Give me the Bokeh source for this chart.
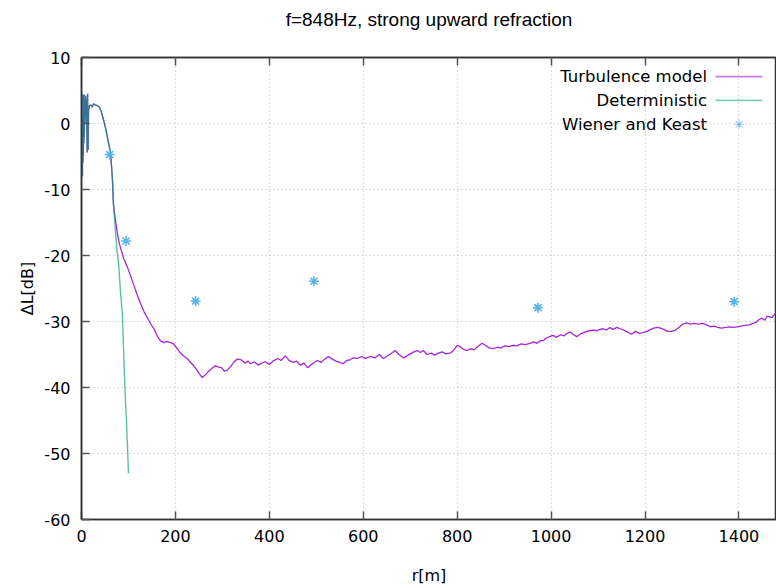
from bokeh.plotting import figure
from bokeh.models import LinearAxis, FixedTicker, Label, BoxAnnotation, Range1d
from bokeh.embed import file_html
from bokeh.resources import INLINE

# ---------------- data ----------------
title_text = "f=848Hz, strong upward refraction"
x_label = "r[m]"
y_label = "ΔL[dB]"
x_ticks = [0, 200, 400, 600, 800, 1000, 1200, 1400]
y_ticks = [-60, -50, -40, -30, -20, -10, 0, 10]

# common near-field part (both models coincide)
near_r = [0, 0.5, 1, 1.5, 2, 2.5, 3, 3.5, 4, 4.5, 5, 5.5, 6, 7, 8, 9, 10, 11, 12, 13,
          14, 15, 17, 20, 23, 26, 30, 34, 38, 42, 46, 51, 56, 62, 66]
near_db = [0, 4.5, -7, 4.0, -8, 3.5, -6, 4.3, -5, 3.8, -3, 4.4, -2, 3.5, 1, 4.2, 0, 3.8, -4.4, 4.5,
           -4.0, 2.0, 2.7, 2.8, 2.5, 3.0, 2.8, 2.7, 2.5, 1.8, 0.8, -0.6, -2.4, -4.5, -8.6]

# deterministic continuation
det_r = [68, 72, 76, 79, 83, 87, 89, 91, 93, 96, 98, 100]
det_db = [-12.1, -16, -19.5, -21.2, -25.5, -28.8, -33, -37.4, -41, -45.5, -49, -53.0]

# turbulence model continuation
turb_r = [68, 72, 76, 80, 83, 90, 98, 105, 112, 120, 126, 133, 140, 147, 155, 162, 168, 175,
          182, 190, 196, 205, 210, 217, 225, 232, 238, 245, 252, 257, 262, 270, 278, 285, 292,
          298, 304, 310, 318, 325, 332, 340, 348, 355, 360, 368, 376, 384, 391, 400, 408, 417,
          425, 434, 442, 451, 458, 466, 474, 481, 490, 496, 502, 510, 518, 526, 534, 542, 550,
          557, 565, 572, 579, 588, 596, 605, 615, 625, 634, 643, 650, 660, 668, 676, 685, 693,
          700, 708, 715, 722, 728, 736, 745, 752, 760, 768, 776, 785, 792, 800, 806, 813, 821,
          829, 836, 844, 853, 860, 868, 877, 885, 893, 902, 910, 919, 927, 936, 945, 955, 963,
          970, 978, 983, 990, 997, 1004, 1012, 1020, 1027, 1034, 1041, 1048, 1055, 1062, 1069,
          1076, 1083, 1090, 1097, 1104, 1111, 1118, 1125, 1132, 1140, 1147, 1155, 1163, 1170,
          1174, 1180, 1188, 1196, 1204, 1212, 1219, 1226, 1233, 1240, 1248, 1257, 1265, 1272,
          1280, 1289, 1297, 1305, 1314, 1323, 1331, 1339, 1347, 1355, 1363, 1372, 1380, 1388,
          1396, 1404, 1413, 1422, 1430, 1437, 1443, 1449, 1455, 1460, 1466, 1470, 1475, 1480]
turb_db = [-12.3, -14.5, -16.5, -18.0, -18.8, -20.5, -21.8, -23.2, -24.6, -26.2, -27.3, -28.5,
           -29.4, -30.3, -31.2, -32.3, -32.9, -33.2, -33.0, -33.2, -33.4, -34.2, -34.7, -35.2,
           -35.6, -36.2, -36.6, -37.3, -38.0, -38.5, -38.2, -37.6, -37.1, -36.7, -36.9, -37.0,
           -37.5, -37.4, -36.8, -36.1, -35.7, -35.8, -36.3, -36.0, -36.4, -36.1, -36.6, -36.3,
           -36.1, -36.5, -36.0, -35.6, -35.9, -35.2, -35.9, -36.2, -36.0, -36.6, -36.3, -37.0,
           -36.5, -36.2, -35.9, -36.2, -35.7, -35.3, -35.7, -36.0, -36.2, -36.4, -35.9, -35.8,
           -35.5, -35.6, -35.3, -35.6, -35.3, -35.5, -35.0, -35.6, -35.3, -34.8, -34.4, -35.0,
           -35.5, -35.2, -34.9, -34.6, -34.4, -34.7, -34.4, -35.0, -34.8, -35.1, -34.8, -34.6,
           -34.9, -34.8, -34.4, -33.6, -33.8, -34.2, -34.4, -34.1, -34.3, -33.8, -33.3, -33.6,
           -34.0, -34.1, -33.9, -34.0, -33.7, -33.8, -33.6, -33.7, -33.4, -33.5, -33.3, -33.1,
           -33.3, -32.9, -32.9, -32.5, -32.3, -32.1, -32.4, -32.0, -32.2, -31.8, -31.6, -32.0,
           -32.3, -31.9, -31.7, -31.5, -31.4, -31.3, -31.4, -31.2, -31.1, -31.3, -30.9, -31.2,
           -30.9, -31.1, -31.3, -31.6, -31.9, -31.8, -31.5, -31.8, -31.7, -31.5, -31.2, -31.0,
           -30.9, -31.0, -31.2, -31.5, -31.5, -31.3, -30.9, -30.4, -30.2, -30.4, -30.3, -30.4,
           -30.3, -30.5, -30.8, -30.7, -30.9, -31.0, -30.9, -30.8, -30.9, -30.8, -30.7, -30.6,
           -30.5, -30.3, -30.1, -29.7, -29.5, -29.8, -29.2, -29.3, -29.4, -29.0, -28.6]

# Wiener and Keast measurements
wk_r = [60, 95, 243, 495, 972, 1390]
wk_db = [-4.7, -17.8, -26.9, -23.9, -27.9, -27.0]

legend_names = ["Turbulence model", "Deterministic", "Wiener and Keast"]

# ---------------- style ----------------
C_TURB = "#9400d3"
C_DET = "#009e73"
C_WK = "#56b4e9"
TICK_FONT = "DejaVu Sans"

p = figure(width=776, height=588, output_backend="svg", toolbar_location=None,
           x_range=Range1d(0, 1480), y_range=Range1d(-60, 10),
           min_border_left=81, min_border_right=0, min_border_top=57, min_border_bottom=69)

p.outline_line_color = "#333333"
p.outline_line_width = 1.5
p.background_fill_color = "white"
p.border_fill_color = "white"

for ax in (p.xaxis[0], p.yaxis[0]):
    ax.axis_line_color = "#333333"
    ax.axis_line_width = 1.5
    ax.major_tick_in = 8
    ax.major_tick_out = 0
    ax.major_tick_line_color = "#555555"
    ax.major_tick_line_width = 1.5
    ax.minor_tick_line_color = None
    ax.major_label_text_font = TICK_FONT
    ax.major_label_text_font_size = "16px"
    ax.major_label_text_color = "#000000"
    ax.axis_label_text_font = TICK_FONT
    ax.axis_label_text_font_size = "16px"
    ax.axis_label_text_font_style = "normal"
    ax.axis_label_text_color = "#000000"

p.xaxis[0].ticker = FixedTicker(ticks=x_ticks)
p.yaxis[0].ticker = FixedTicker(ticks=y_ticks)
p.yaxis[0].major_label_overrides = {t: str(t) for t in y_ticks}
p.xaxis[0].major_label_overrides = {t: str(t) for t in x_ticks}
p.xaxis[0].axis_label = x_label
p.yaxis[0].axis_label = y_label
p.xaxis[0].major_label_standoff = 10
p.yaxis[0].major_label_standoff = 11
p.xaxis[0].axis_label_standoff = 21
p.yaxis[0].axis_label_standoff = 4

# top border with mirrored ticks; its axis label carries the chart title
top = LinearAxis(ticker=FixedTicker(ticks=x_ticks),
                 major_label_overrides={t: "" for t in x_ticks},
                 major_label_standoff=0, major_tick_in=8, major_tick_out=0,
                 major_tick_line_color="#555555", major_tick_line_width=1.5,
                 minor_tick_line_color=None, axis_line_color="#333333", axis_line_width=1.5,
                 axis_label=title_text, axis_label_text_font="Liberation Sans",
                 axis_label_text_font_size="19px", axis_label_text_font_style="normal",
                 axis_label_text_color="#000000", axis_label_standoff=28)
p.add_layout(top, "above")

p.xgrid.ticker = FixedTicker(ticks=x_ticks)
p.ygrid.ticker = FixedTicker(ticks=y_ticks)
for g in (p.xgrid[0], p.ygrid[0]):
    g.grid_line_color = "#bbbbbb"
    g.grid_line_dash = "1 3"
    g.grid_line_width = 1.2

# ---------------- series ----------------
p.line(near_r + turb_r, near_db + turb_db, line_color=C_TURB, line_width=1.3, line_alpha=0.85)
p.line(near_r + det_r, near_db + det_db, line_color=C_DET, line_width=1.4, line_alpha=0.65)
p.scatter(wk_r, wk_db, marker="asterisk", size=10, line_color=C_WK, line_width=1.6)

# ---------------- key (gnuplot-style: text right, sample right of text) ----------------
key_text_x = 1332
key_rows = [7.1, 3.5, -0.2]
for name, yk in zip(legend_names, key_rows):
    p.add_layout(Label(x=key_text_x, y=yk, text=name, text_align="right",
                       text_baseline="middle", text_font=TICK_FONT,
                       text_font_size="16.5px", text_color="#000000"))
samp_l, samp_r = 1350, 1450
p.add_layout(BoxAnnotation(left=samp_l, right=samp_r, bottom=key_rows[0] - 0.13,
                           top=key_rows[0] + 0.13, fill_color="#c27ee8", fill_alpha=1,
                           line_color=None))
p.add_layout(BoxAnnotation(left=samp_l, right=samp_r, bottom=key_rows[1] - 0.13,
                           top=key_rows[1] + 0.13, fill_color="#7fcfb6", fill_alpha=1,
                           line_color=None))
p.add_layout(Label(x=(samp_l + samp_r) / 2, y=key_rows[2], text="✳", text_align="center",
                   text_baseline="middle", text_font="DejaVu Sans", text_font_size="13px",
                   text_color=C_WK))

open("out.html", "w").write(file_html(p, INLINE))
